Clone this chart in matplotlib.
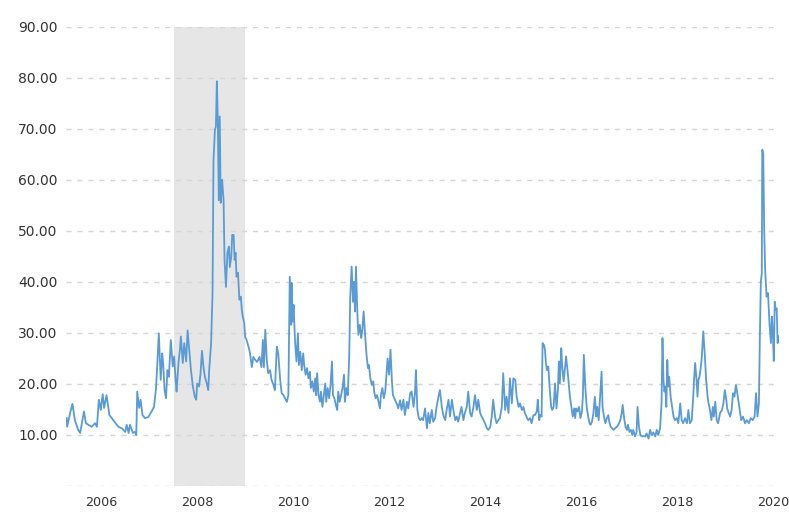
import matplotlib
matplotlib.use("Agg")
import matplotlib.pyplot as plt
from matplotlib.ticker import FuncFormatter

# weekly readings (decimal year on the chart's axis)
years = [
    2005.27, 2005.28, 2005.34, 2005.39, 2005.44, 2005.51, 2005.55, 2005.58, 2005.63, 2005.67,
    2005.72, 2005.79, 2005.86, 2005.90, 2005.94, 2005.98, 2006.02, 2006.05, 2006.10, 2006.16,
    2006.21, 2006.28, 2006.35, 2006.42, 2006.49, 2006.52, 2006.56, 2006.59, 2006.65, 2006.69,
    2006.72, 2006.74, 2006.78, 2006.81, 2006.85, 2006.90, 2006.97, 2007.04, 2007.09, 2007.13,
    2007.16, 2007.19, 2007.23, 2007.26, 2007.28, 2007.31, 2007.34, 2007.37, 2007.40, 2007.44,
    2007.48, 2007.51, 2007.54, 2007.56, 2007.60, 2007.63, 2007.65, 2007.69, 2007.72, 2007.76,
    2007.79, 2007.83, 2007.86, 2007.90, 2007.94, 2007.97, 2007.99, 2008.03, 2008.06, 2008.09,
    2008.12, 2008.15, 2008.19, 2008.22, 2008.24, 2008.28, 2008.31, 2008.33, 2008.36, 2008.38,
    2008.40, 2008.42, 2008.44, 2008.46, 2008.48, 2008.51, 2008.54, 2008.56, 2008.59, 2008.62,
    2008.65, 2008.67, 2008.70, 2008.72, 2008.75, 2008.77, 2008.79, 2008.81, 2008.84, 2008.87,
    2008.90, 2008.92, 2008.94, 2008.97, 2008.99, 2009.02, 2009.06, 2009.09, 2009.13, 2009.16,
    2009.20, 2009.24, 2009.29, 2009.33, 2009.36, 2009.38, 2009.41, 2009.44, 2009.47, 2009.51,
    2009.54, 2009.58, 2009.61, 2009.65, 2009.68, 2009.72, 2009.75, 2009.79, 2009.82, 2009.86,
    2009.89, 2009.92, 2009.95, 2009.96, 2009.98, 2010.00, 2010.03, 2010.06, 2010.09, 2010.11,
    2010.14, 2010.17, 2010.20, 2010.22, 2010.25, 2010.28, 2010.31, 2010.34, 2010.36, 2010.39,
    2010.42, 2010.45, 2010.47, 2010.49, 2010.52, 2010.55, 2010.57, 2010.60, 2010.63, 2010.66,
    2010.68, 2010.71, 2010.74, 2010.77, 2010.80, 2010.82, 2010.85, 2010.88, 2010.91, 2010.93,
    2010.96, 2010.99, 2011.02, 2011.05, 2011.07, 2011.10, 2011.13, 2011.16, 2011.18, 2011.21,
    2011.24, 2011.26, 2011.28, 2011.30, 2011.33, 2011.35, 2011.38, 2011.41, 2011.43, 2011.46,
    2011.49, 2011.52, 2011.55, 2011.57, 2011.60, 2011.63, 2011.66, 2011.68, 2011.71, 2011.74,
    2011.77, 2011.80, 2011.82, 2011.85, 2011.88, 2011.91, 2011.93, 2011.96, 2011.99, 2012.02,
    2012.05, 2012.07, 2012.10, 2012.13, 2012.16, 2012.18, 2012.22, 2012.25, 2012.29, 2012.32,
    2012.36, 2012.39, 2012.43, 2012.46, 2012.50, 2012.53, 2012.55, 2012.58, 2012.61, 2012.64,
    2012.67, 2012.70, 2012.74, 2012.78, 2012.81, 2012.84, 2012.88, 2012.91, 2012.95, 2012.98,
    2013.02, 2013.05, 2013.09, 2013.12, 2013.16, 2013.19, 2013.23, 2013.26, 2013.30, 2013.33,
    2013.37, 2013.40, 2013.43, 2013.47, 2013.50, 2013.54, 2013.57, 2013.61, 2013.64, 2013.68,
    2013.71, 2013.75, 2013.78, 2013.82, 2013.85, 2013.89, 2013.92, 2013.96, 2013.99, 2014.03,
    2014.06, 2014.10, 2014.13, 2014.16, 2014.20, 2014.23, 2014.27, 2014.30, 2014.34, 2014.37,
    2014.41, 2014.44, 2014.48, 2014.51, 2014.55, 2014.58, 2014.62, 2014.65, 2014.69, 2014.72,
    2014.76, 2014.79, 2014.82, 2014.86, 2014.89, 2014.93, 2014.96, 2015.00, 2015.03, 2015.07,
    2015.09, 2015.12, 2015.14, 2015.17, 2015.19, 2015.22, 2015.24, 2015.26, 2015.28, 2015.31,
    2015.34, 2015.37, 2015.39, 2015.42, 2015.45, 2015.48, 2015.51, 2015.53, 2015.55, 2015.58,
    2015.60, 2015.63, 2015.66, 2015.68, 2015.71, 2015.74, 2015.76, 2015.79, 2015.82, 2015.85,
    2015.87, 2015.89, 2015.92, 2015.95, 2015.98, 2016.01, 2016.03, 2016.05, 2016.08, 2016.11,
    2016.14, 2016.17, 2016.19, 2016.22, 2016.25, 2016.28, 2016.31, 2016.33, 2016.36, 2016.39,
    2016.42, 2016.44, 2016.47, 2016.50, 2016.53, 2016.56, 2016.58, 2016.61, 2016.64, 2016.67,
    2016.70, 2016.74, 2016.77, 2016.81, 2016.84, 2016.86, 2016.89, 2016.92, 2016.95, 2016.97,
    2017.00, 2017.03, 2017.06, 2017.08, 2017.12, 2017.15, 2017.17, 2017.20, 2017.23, 2017.26,
    2017.29, 2017.33, 2017.36, 2017.40, 2017.43, 2017.47, 2017.50, 2017.54, 2017.57, 2017.60,
    2017.64, 2017.67, 2017.69, 2017.71, 2017.73, 2017.75, 2017.77, 2017.79, 2017.81, 2017.83,
    2017.86, 2017.89, 2017.92, 2017.95, 2017.99, 2018.02, 2018.06, 2018.09, 2018.12, 2018.16,
    2018.20, 2018.23, 2018.26, 2018.30, 2018.33, 2018.35, 2018.37, 2018.40, 2018.42, 2018.44,
    2018.46, 2018.49, 2018.51, 2018.54, 2018.57, 2018.60, 2018.63, 2018.65, 2018.68, 2018.71,
    2018.74, 2018.76, 2018.79, 2018.82, 2018.85, 2018.89, 2018.93, 2018.96, 2018.99, 2019.02,
    2019.04, 2019.07, 2019.10, 2019.13, 2019.16, 2019.19, 2019.22, 2019.24, 2019.27, 2019.30,
    2019.33, 2019.37, 2019.41, 2019.45, 2019.49, 2019.53, 2019.57, 2019.61, 2019.64, 2019.67,
    2019.70, 2019.72, 2019.74, 2019.76, 2019.77, 2019.79, 2019.81, 2019.83, 2019.86, 2019.89,
    2019.92, 2019.95, 2019.97, 2019.99, 2020.01, 2020.03, 2020.05, 2020.07, 2020.09, 2020.11,
]

vix = [
    13.3, 11.6, 14.3, 16.1, 12.9, 11.0, 10.4, 12.0, 14.6, 12.3,
    12.0, 11.6, 12.3, 11.6, 16.9, 14.9, 18.0, 15.3, 17.8, 13.9,
    13.3, 12.4, 11.6, 11.3, 10.6, 12.0, 10.4, 12.0, 10.4, 10.6,
    10.0, 18.5, 15.3, 16.9, 13.9, 13.3, 13.5, 14.6, 15.5, 19.0,
    24.1, 29.9, 20.8, 26.0, 24.1, 18.8, 17.2, 22.7, 21.4, 28.6,
    23.4, 25.4, 20.8, 18.5, 24.1, 26.7, 29.3, 24.1, 28.0, 24.4,
    30.5, 26.0, 22.7, 19.5, 17.5, 16.9, 20.1, 19.5, 22.1, 26.5,
    23.4, 21.4, 20.1, 18.8, 22.7, 28.0, 37.8, 63.9, 69.8, 70.4,
    79.3, 71.8, 56.0, 72.4, 55.5, 60.0, 56.0, 44.3, 39.0, 45.7,
    46.9, 42.9, 44.9, 49.2, 49.2, 44.3, 45.7, 41.0, 41.8, 36.5,
    37.1, 34.5, 33.2, 32.0, 29.2, 28.6, 27.3, 26.1, 23.3, 25.3,
    24.7, 24.3, 25.3, 23.3, 28.6, 23.3, 30.6, 24.7, 22.1, 22.7,
    20.8, 19.8, 18.8, 27.3, 26.0, 20.8, 18.2, 17.8, 17.2, 16.5,
    17.8, 41.0, 31.6, 39.8, 32.2, 35.5, 28.3, 24.4, 29.9, 23.7,
    26.3, 22.7, 26.0, 23.7, 21.8, 23.1, 21.1, 22.4, 19.2, 20.5,
    18.5, 21.1, 17.8, 22.1, 17.8, 16.5, 18.5, 15.5, 17.8, 20.1,
    16.5, 19.2, 17.2, 19.8, 24.4, 17.8, 17.2, 15.9, 14.9, 18.5,
    16.5, 17.8, 19.2, 21.8, 16.5, 19.2, 17.8, 25.7, 36.8, 43.0,
    36.1, 40.0, 34.2, 43.0, 33.5, 29.6, 31.6, 29.0, 30.3, 34.2,
    29.6, 25.7, 23.1, 23.7, 21.1, 19.8, 20.5, 18.5, 17.2, 17.8,
    16.5, 15.2, 17.8, 19.2, 17.2, 18.5, 21.1, 25.0, 21.8, 26.7,
    20.5, 17.8, 17.2, 16.5, 15.9, 15.2, 16.8, 14.9, 16.9, 13.9,
    16.5, 15.2, 18.2, 18.5, 15.5, 18.2, 22.7, 14.9, 13.3, 12.9,
    13.3, 12.9, 15.2, 11.3, 14.3, 12.3, 14.9, 12.6, 13.3, 15.5,
    17.5, 18.8, 15.5, 13.9, 12.9, 14.9, 16.9, 13.6, 16.9, 14.9,
    12.9, 13.6, 12.6, 14.3, 15.5, 12.9, 14.3, 15.5, 18.5, 14.3,
    13.6, 15.5, 17.8, 14.9, 16.9, 14.3, 13.6, 12.9, 12.3, 11.3,
    11.0, 11.6, 13.6, 16.9, 13.6, 12.3, 12.9, 13.3, 15.5, 22.1,
    14.9, 17.5, 14.3, 21.1, 16.2, 21.1, 20.8, 17.5, 15.5, 16.2,
    14.9, 15.5, 14.3, 13.5, 12.9, 13.3, 12.3, 13.9, 13.9, 14.6,
    16.9, 12.9, 13.9, 13.6, 28.0, 27.6, 26.7, 24.1, 22.7, 23.4,
    18.8, 15.5, 14.9, 15.5, 20.1, 15.2, 18.8, 24.4, 20.1, 27.0,
    23.4, 20.5, 23.4, 25.4, 22.7, 19.5, 17.5, 15.5, 13.6, 15.2,
    13.3, 15.2, 14.6, 15.5, 13.3, 14.6, 17.5, 25.7, 19.5, 15.5,
    13.6, 12.3, 12.0, 12.6, 14.3, 17.5, 13.6, 15.5, 12.9, 17.5,
    22.4, 15.5, 13.6, 12.3, 13.3, 13.9, 12.6, 11.6, 11.3, 11.0,
    11.3, 11.6, 12.0, 12.9, 14.3, 15.9, 13.3, 11.6, 11.0, 12.0,
    10.6, 11.0, 10.0, 11.0, 9.7, 10.6, 15.5, 11.6, 10.0, 9.7,
    9.8, 9.7, 10.3, 9.3, 11.0, 10.0, 10.5, 9.7, 11.0, 10.0,
    11.3, 16.2, 29.0, 20.8, 18.5, 19.5, 15.5, 24.7, 19.5, 21.4,
    17.5, 15.5, 13.6, 12.9, 13.3, 12.3, 16.2, 12.9, 12.3, 13.3,
    12.3, 14.9, 12.3, 12.9, 17.5, 21.1, 24.1, 20.8, 17.5, 20.8,
    21.4, 23.4, 25.4, 30.3, 26.0, 20.8, 17.5, 16.2, 14.9, 12.9,
    15.5, 13.6, 16.5, 12.9, 12.3, 14.3, 14.9, 16.2, 18.8, 16.9,
    15.2, 14.3, 13.6, 14.9, 18.2, 17.5, 19.8, 18.8, 16.9, 14.9,
    12.9, 13.6, 12.3, 12.9, 12.3, 13.3, 12.9, 13.6, 18.2, 13.6,
    16.2, 29.3, 40.0, 41.7, 65.9, 65.2, 50.2, 42.4, 37.1, 37.8,
    31.9, 28.0, 33.2, 29.9, 24.5, 36.1, 34.5, 34.8, 28.0, 29.3,
]

recession = (2007.51, 2008.99)
year_ticks = [2006, 2008, 2010, 2012, 2014, 2016, 2018, 2020]
value_ticks = [0, 10, 20, 30, 40, 50, 60, 70, 80, 90]

fig = plt.figure(figsize=(7.89, 5.13), dpi=100)
ax = fig.add_axes([0.0837, 0.0526, 0.9037, 0.8954])

ax.axvspan(recession[0], recession[1], color="#e6e6e6", lw=0, zorder=0)
ax.plot(years, vix, color="#5b9bd5", lw=1.3, zorder=3)

ax.set_xlim(2005.256, 2020.12)
ax.set_ylim(0, 90)
ax.set_xticks(year_ticks)
ax.set_yticks(value_ticks)
ax.yaxis.set_major_formatter(FuncFormatter(lambda v, p: "" if v == 0 else f"{v:.2f}"))

ax.set_axisbelow(True)
ax.yaxis.grid(True, color="#d6d6d6", linestyle=(0, (3.6, 4.3)), lw=1)
for s in ax.spines.values():
    s.set_visible(False)

ax.tick_params(axis="both", length=0, labelcolor="#333333")
ax.tick_params(axis="y", pad=6, labelsize=10)
ax.tick_params(axis="x", pad=7, labelsize=9.2)

fig.savefig("out.png", dpi=100, facecolor="white")
